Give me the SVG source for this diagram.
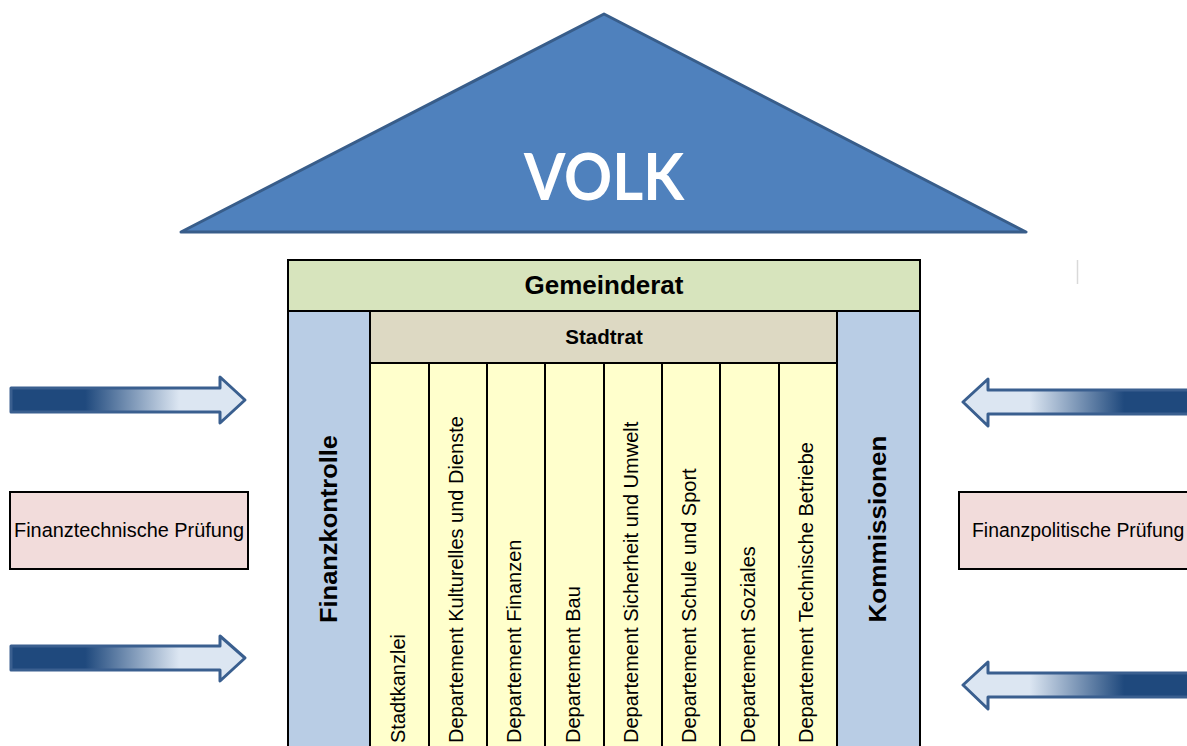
<svg xmlns="http://www.w3.org/2000/svg" width="1187" height="746" viewBox="0 0 1187 746">
<style>
.t{font-family:"Liberation Sans",Arial,sans-serif;fill:#000}
.b{font-weight:bold}
.cell{stroke:#000;stroke-width:2}
.dept{fill:#FFFFCC}
.side{fill:#B9CDE5}
.box{fill:#F2DCDB;stroke:#000;stroke-width:2}
.arr{stroke:#3A5F8F;stroke-width:3;stroke-linejoin:round}
.dt{font-size:20px}
</style>
<defs>
<linearGradient id="gR" gradientUnits="userSpaceOnUse" x1="10" y1="0" x2="245" y2="0">
<stop offset="0" stop-color="#1F497D"/>
<stop offset="0.32" stop-color="#1F497D"/>
<stop offset="0.72" stop-color="#DCE6F2"/>
<stop offset="1" stop-color="#DCE6F2"/>
</linearGradient>
<linearGradient id="gL" gradientUnits="userSpaceOnUse" x1="963" y1="0" x2="1200" y2="0">
<stop offset="0" stop-color="#DCE6F2"/>
<stop offset="0.28" stop-color="#DCE6F2"/>
<stop offset="0.68" stop-color="#1F497D"/>
<stop offset="1" stop-color="#1F497D"/>
</linearGradient>
</defs>

<g id="volk">
<polygon points="181,232 604,14 1026,232" fill="#4F81BD" stroke="#385D8A" stroke-width="3" stroke-linejoin="round"/>
<text x="604" y="200" text-anchor="middle" font-family="Lato,'Open Sans',sans-serif" font-weight="bold" font-size="65" fill="#FFFFFF" textLength="160" lengthAdjust="spacingAndGlyphs">VOLK</text>
</g>

<g id="gemeinderat">
<rect class="cell" x="288" y="260" width="632" height="51" fill="#D7E4BD"/>
<text class="t b" x="604" y="294" text-anchor="middle" font-size="26">Gemeinderat</text>
</g>

<g id="finanzkontrolle">
<rect class="cell side" x="288" y="311" width="82" height="450"/>
<text class="t b" transform="translate(337,529) rotate(-90)" text-anchor="middle" font-size="23" textLength="188" lengthAdjust="spacingAndGlyphs">Finanzkontrolle</text>
</g>

<g id="kommissionen">
<rect class="cell side" x="837" y="311" width="83" height="450"/>
<text class="t b" transform="translate(886,529) rotate(-90)" text-anchor="middle" font-size="23" textLength="187" lengthAdjust="spacingAndGlyphs">Kommissionen</text>
</g>

<g id="stadtrat">
<rect class="cell" x="370" y="311" width="467" height="52" fill="#DDD9C3"/>
<text class="t b" x="604" y="344" text-anchor="middle" font-size="20.5">Stadtrat</text>
</g>

<g id="dept-stadtkanzlei">
<rect class="cell dept" x="370" y="363" width="59" height="400"/>
<text class="t dt" transform="translate(405,743) rotate(-90)">Stadtkanzlei</text>
</g>
<g id="dept-kultur">
<rect class="cell dept" x="429" y="363" width="58" height="400"/>
<text class="t dt" transform="translate(463,743) rotate(-90)">Departement Kulturelles und Dienste</text>
</g>
<g id="dept-finanzen">
<rect class="cell dept" x="487" y="363" width="58" height="400"/>
<text class="t dt" transform="translate(521,743) rotate(-90)">Departement Finanzen</text>
</g>
<g id="dept-bau">
<rect class="cell dept" x="545" y="363" width="59" height="400"/>
<text class="t dt" transform="translate(580,743) rotate(-90)">Departement Bau</text>
</g>
<g id="dept-sicherheit">
<rect class="cell dept" x="604" y="363" width="58" height="400"/>
<text class="t dt" transform="translate(638,743) rotate(-90)">Departement Sicherheit und Umwelt</text>
</g>
<g id="dept-schule">
<rect class="cell dept" x="662" y="363" width="58" height="400"/>
<text class="t dt" transform="translate(696,743) rotate(-90)">Departement Schule und Sport</text>
</g>
<g id="dept-soziales">
<rect class="cell dept" x="720" y="363" width="59" height="400"/>
<text class="t dt" transform="translate(755,743) rotate(-90)">Departement Soziales</text>
</g>
<g id="dept-technische">
<rect class="cell dept" x="779" y="363" width="58" height="400"/>
<text class="t dt" transform="translate(813,743) rotate(-90)">Departement Technische Betriebe</text>
</g>

<g id="finanztechnische">
<rect class="box" x="10" y="492" width="238" height="77"/>
<text class="t" x="129" y="537" text-anchor="middle" font-size="19.9">Finanztechnische Prüfung</text>
</g>
<g id="finanzpolitische">
<rect class="box" x="959" y="492" width="240" height="77"/>
<text class="t" x="972" y="537" font-size="19.4">Finanzpolitische Prüfung</text>
</g>

<g id="connectors">
<path class="arr" fill="url(#gR)" d="M11,388 H220 V377 L245,400 L220,423 V412 H11 Z"/>
<path class="arr" fill="url(#gR)" d="M11,646 H220 V636 L245,658 L220,681 V670 H11 Z"/>
<path class="arr" fill="url(#gL)" d="M1200,390 H988 V379 L963,402 L988,426 V414 H1200 Z"/>
<path class="arr" fill="url(#gL)" d="M1200,673 H988 V662 L963,685 L988,709 V697 H1200 Z"/>
</g>

<line x1="1077.5" y1="260" x2="1077.5" y2="284" stroke="#D9D9D9" stroke-width="1.5"/>
</svg>
